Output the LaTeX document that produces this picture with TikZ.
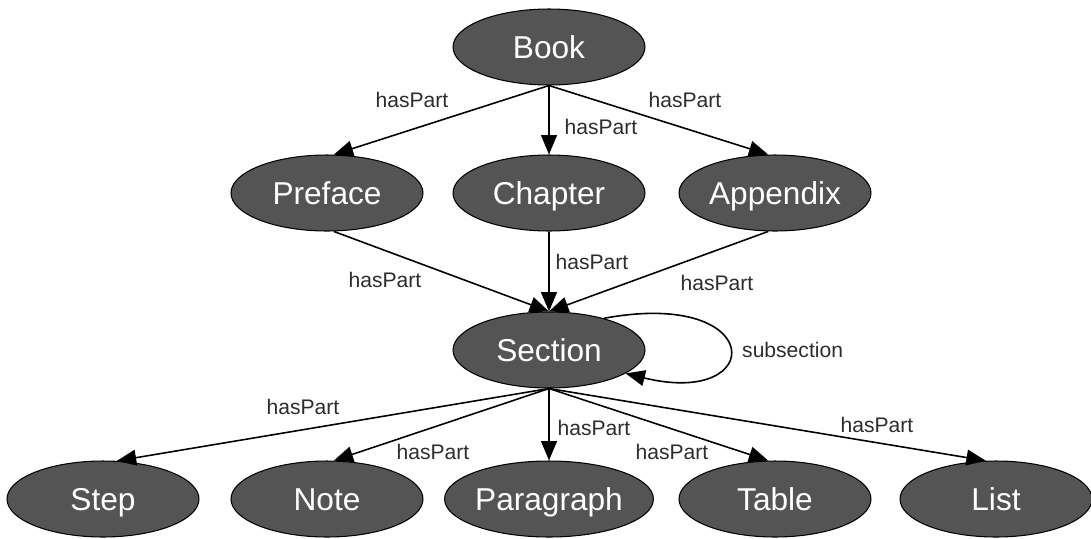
\documentclass[tikz,border=0pt]{standalone}
\usepackage{fontspec}
\setmainfont{Liberation Sans}
\usetikzlibrary{shapes.geometric,arrows.meta}
\definecolor{nodegray}{RGB}{84,84,84}
\definecolor{labelgray}{RGB}{45,45,45}
\begin{document}
\begin{tikzpicture}[x=0.02cm,y=-0.02cm,
  concept/.style={ellipse, draw=black, semithick, fill=nodegray, text=white,
    minimum width=3.84cm, minimum height=1.52cm, inner sep=0pt,
    text height=12.9pt, text depth=0pt, font=\fontsize{18}{20}\selectfont},
  rel/.style={-{Triangle[length=11pt,width=9pt]}, line width=0.9pt},
  rellab/.style={text=labelgray, font=\fontsize{12}{14}\selectfont}]
  \useasboundingbox (0,0) rectangle (1091,538);
  \node[concept] (book) at (549,47) {Book};
  \foreach \id/\x/\name in {preface/327/Preface, chapter/549/Chapter, appendix/775/Appendix}
    \node[concept] (\id) at (\x,193) {\name};
  \node[concept] (section) at (549,350) {Section};
  \foreach \id/\x/\name in {step/103/Step, note/327/Note, para/549/Paragraph, table/775/Table, list/996/List}
    \node[concept] (\id) at (\x,499) {\name};
  % book level
  \foreach \dst/\lx/\ly [count=\i] in {preface.80/412/100, chapter.north/601/127, appendix.100/685/100} {
    \draw[rel] (book.south) -- (\dst);
    \node[rellab] (top\i) at (\lx,\ly) {hasPart};
  }
  % into section
  \foreach \src/\lx/\ly [count=\i] in {preface.-80/385/280, chapter.south/592/262, appendix.-100/717/283} {
    \draw[rel] (\src) -- (section.north);
    \node[rellab] (mid\i) at (\lx,\ly) {hasPart};
  }
  \draw[rel] (section.30) .. controls (767,288) and (767,408) .. (section.-17);
  \node[rellab, anchor=west] (loop) at (736,350) {subsection};
  % out of section
  \foreach \dst/\lx/\ly [count=\i] in {step.70/303/407, note.80/433/452, para.north/594/428,
      table.100/672/452, list.105/877/425} {
    \draw[rel] (section.south) -- (\dst);
    \node[rellab] (low\i) at (\lx,\ly) {hasPart};
  }
\end{tikzpicture}
\end{document}
